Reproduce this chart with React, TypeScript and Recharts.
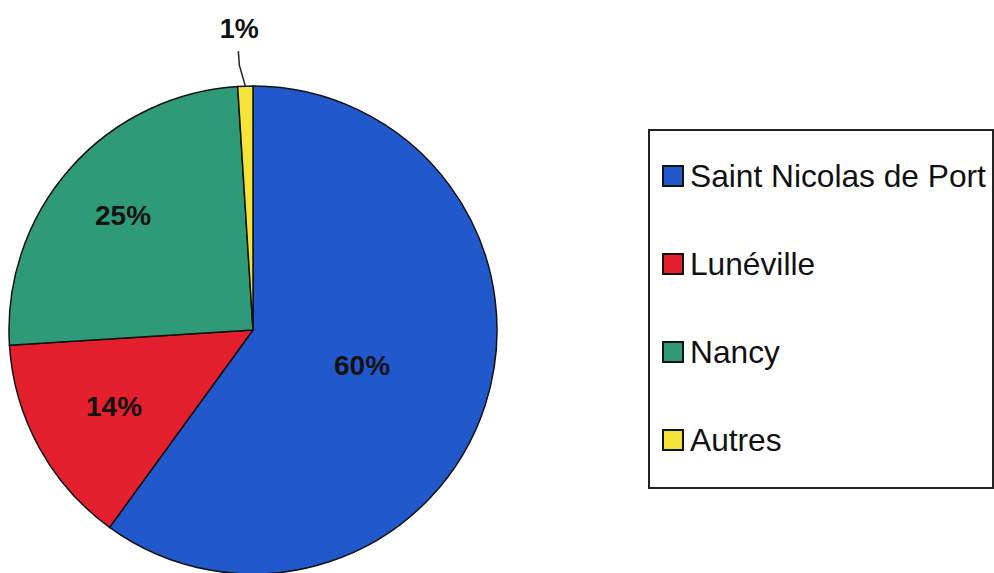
import React from 'react';
import { PieChart, Pie, Cell, Legend } from 'recharts';

const categories = ['Saint Nicolas de Port', 'Lunéville', 'Nancy', 'Autres'];
const shares = [60, 14, 25, 1];
const colors = ['#2159cd', '#e41f2e', '#2f9a78', '#f4e43a'];

const data = categories.map((name, i) => ({ name, value: shares[i] }));

const RAD = Math.PI / 180;
// label distance from centre, per slice (fraction of radius)
const labelDist = [0.47, 0.65, 0.71, 0];

const renderLabel = (props: any) => {
  const { cx, cy, midAngle, outerRadius, percent, index } = props;
  const txt = `${Math.round(percent * 100)}%`;
  if (index === 3) {
    const ax = cx + outerRadius * Math.cos(-midAngle * RAD);
    const ay = cy + outerRadius * Math.sin(-midAngle * RAD);
    return (
      <g>
        <polyline
          points={`${ax},${ay} ${ax - 6},${ay - 21} ${ax - 7},${ay - 35}`}
          fill="none"
          stroke="#222"
          strokeWidth={1.5}
        />
        <text x={ax - 6} y={ay - 48} textAnchor="middle" fontSize={27} fontWeight="bold" fill="#111"
          fontFamily="'Liberation Sans', Arial, sans-serif">
          {txt}
        </text>
      </g>
    );
  }
  const r = outerRadius * labelDist[index];
  const x = cx + r * Math.cos(-midAngle * RAD);
  const y = cy + r * Math.sin(-midAngle * RAD);
  return (
    <text x={x} y={y} textAnchor="middle" dominantBaseline="central" fontSize={28} fontWeight="bold"
      fill="#111" fontFamily="'Liberation Sans', Arial, sans-serif">
      {txt}
    </text>
  );
};

const LegendBox = () => (
  <div
    style={{
      width: 342,
      height: 356,
      border: '2px solid #222',
      background: '#fff',
      fontFamily: "'Liberation Sans', Arial, sans-serif",
      position: 'relative',
    }}
  >
    {categories.map((name, i) => (
      <div
        key={name}
        style={{
          position: 'absolute',
          left: 12,
          top: 45 + i * 88 - 20,
          height: 40,
          display: 'flex',
          alignItems: 'center',
          whiteSpace: 'nowrap',
        }}
      >
        <span
          style={{
            width: 18,
            height: 18,
            background: colors[i],
            border: '2px solid #111',
            marginRight: 6,
            display: 'inline-block',
          }}
        />
        <span style={{ fontSize: 31.7, color: '#111' }}>{name}</span>
      </div>
    ))}
  </div>
);

export default function App() {
  return (
    <div style={{ position: 'absolute', left: 0, top: 0, width: 994, height: 573, background: '#fff', overflow: 'hidden' }}>
      <PieChart width={994} height={573}>
        <Pie
          data={data}
          dataKey="value"
          nameKey="name"
          cx={248}
          cy={325}
          outerRadius={244}
          startAngle={90}
          endAngle={-270}
          stroke="#111"
          strokeWidth={1.5}
          label={renderLabel}
          labelLine={false}
          isAnimationActive={false}
        >
          {data.map((d, i) => (
            <Cell key={d.name} fill={colors[i]} />
          ))}
        </Pie>
        <Legend
          content={<LegendBox />}
          wrapperStyle={{ left: 648, top: 129, width: 346, height: 360 }}
        />
      </PieChart>
    </div>
  );
}
